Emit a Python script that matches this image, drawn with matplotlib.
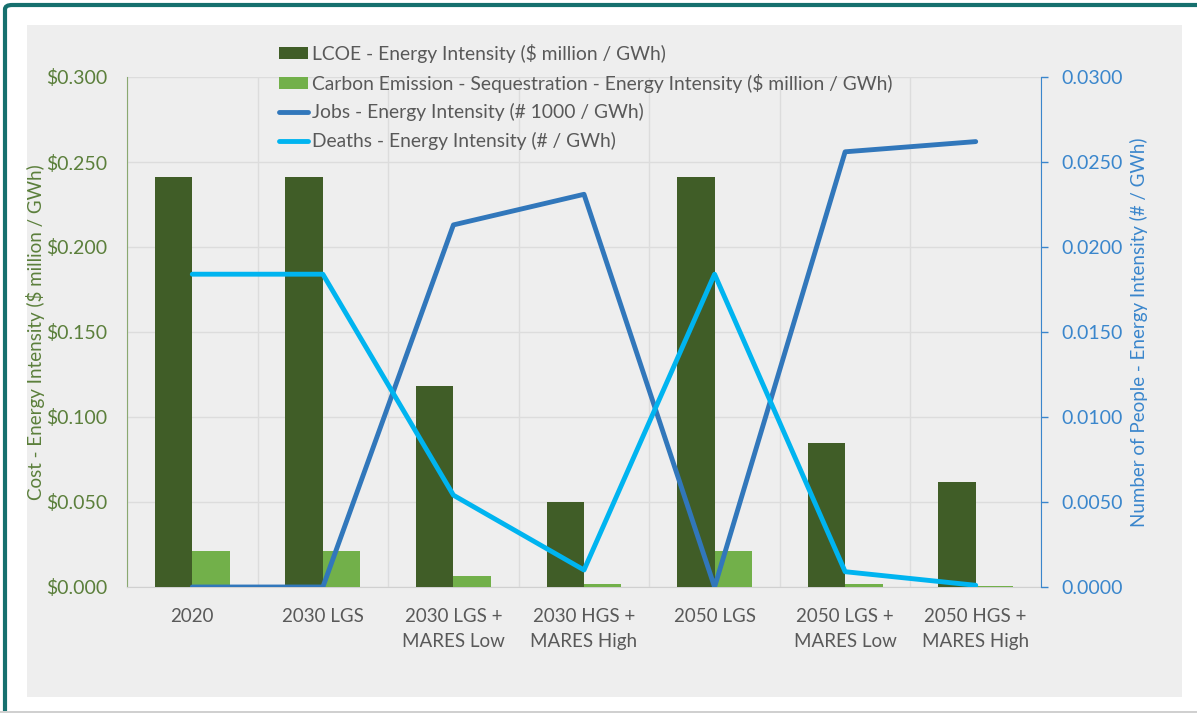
import numpy as np
import matplotlib.pyplot as plt
from matplotlib.patches import Rectangle, FancyBboxPatch

plt.rcParams['font.family'] = ['Lato', 'DejaVu Sans']

scenarios = ["2020", "2030 LGS", "2030 LGS +\nMARES Low", "2030 HGS +\nMARES High",
             "2050 LGS", "2050 LGS +\nMARES Low", "2050 HGS +\nMARES High"]
lcoe = [0.241, 0.241, 0.118, 0.050, 0.241, 0.085, 0.062]
carbon = [0.021, 0.021, 0.0065, 0.0015, 0.021, 0.0015, 0.0008]
jobs = [0.0, 0.0, 0.0213, 0.0231, 0.0, 0.0256, 0.0262]
deaths = [0.0184, 0.0184, 0.0054, 0.0010, 0.0184, 0.0009, 0.0001]

c_lcoe = "#405d27"
c_carbon = "#72b04a"
c_jobs = "#3177bb"
c_deaths = "#00b4f0"
c_left = "#5b7f3b"
c_right = "#3a86cc"
c_text = "#595959"

fig = plt.figure(figsize=(11.97, 7.13), dpi=100)

# outer frame + grey chart panel (behind the axes)
fig.patches.append(FancyBboxPatch((5 / 1197, -0.02), 1.1, 1 - 5 / 713 + 0.02,
                                  boxstyle="round,pad=0,rounding_size=0.006",
                                  transform=fig.transFigure, fc="white",
                                  ec="#16706e", lw=3, zorder=-3))
fig.patches.append(Rectangle((0, 0), 1, 2 / 713, transform=fig.transFigure,
                             fc="#d0d0d0", ec="none", zorder=-2))
fig.patches.append(Rectangle((27 / 1197, 1 - 697 / 713), (1182 - 27) / 1197,
                             (697 - 25) / 713, transform=fig.transFigure,
                             fc="#eeeeee", ec="none", zorder=-1))

ax = fig.add_axes([127 / 1197, 1 - 587 / 713, 914 / 1197, 510 / 713])
ax.set_facecolor("none")
x = np.arange(len(scenarios))
w = 0.287

b1 = ax.bar(x - w / 2, lcoe, w, color=c_lcoe, label="LCOE - Energy Intensity ($ million / GWh)", zorder=3)
b2 = ax.bar(x + w / 2, carbon, w, color=c_carbon,
            label="Carbon Emission - Sequestration - Energy Intensity ($ million / GWh)", zorder=3)

ax.set_xlim(-0.5, len(scenarios) - 0.5)
ax.set_ylim(0, 0.3)
ax.set_yticks(np.arange(0, 0.301, 0.05))
ax.set_yticklabels([f"${v:.3f}" for v in np.arange(0, 0.301, 0.05)])
ax.tick_params(axis="y", length=0, pad=14, labelsize=14, labelcolor=c_left)
ax.set_xticks(x)
ax.set_xticklabels(scenarios, linespacing=1.55)
ax.tick_params(axis="x", length=0, pad=15, labelsize=13.5, labelcolor=c_text)
ax.set_xticks(np.arange(-0.5, len(scenarios), 1), minor=True)
ax.tick_params(axis="x", which="minor", length=0)
ax.grid(axis="y", color="#dcdcdc", lw=1, zorder=0)
ax.grid(axis="x", which="minor", color="#dcdcdc", lw=1, zorder=0)
for s in ["top", "right"]:
    ax.spines[s].set_visible(False)
ax.spines["left"].set_color("#8aa870")
ax.spines["bottom"].set_color("#d0d0d0")
ax.set_ylabel("Cost - Energy Intensity ($ million / GWh)", color=c_left, fontsize=13.5, labelpad=1)

ax2 = ax.twinx()
l1, = ax2.plot(x, jobs, color=c_jobs, lw=3.5, solid_capstyle="round",
               label="Jobs - Energy Intensity (# 1000 / GWh)", zorder=4)
l2, = ax2.plot(x, deaths, color=c_deaths, lw=3.5, solid_capstyle="round",
               label="Deaths - Energy Intensity (# / GWh)", zorder=4)
ax2.set_ylim(0, 0.03)
ax2.set_yticks(np.arange(0, 0.0301, 0.005))
ax2.set_yticklabels([f"{v:.4f}" for v in np.arange(0, 0.0301, 0.005)])
ax2.tick_params(axis="y", length=5, width=1, color=c_right, pad=10, labelsize=14, labelcolor=c_right)
for s in ["top", "left", "bottom"]:
    ax2.spines[s].set_visible(False)
ax2.spines["right"].set_color(c_right)
ax2.set_ylabel("Number of People - Energy Intensity (# / GWh)", color=c_right, fontsize=13.5, labelpad=5)

fig.legend(handles=[b1, b2, l1, l2], loc="upper left", bbox_to_anchor=(279 / 1197, 1 - 44 / 713),
           frameon=False, fontsize=13.9, labelcolor=c_text, handlelength=1.5, handleheight=0.6,
           handletextpad=0.2, labelspacing=0.55, borderaxespad=0, borderpad=0)

fig.savefig("out.png", dpi=100)
